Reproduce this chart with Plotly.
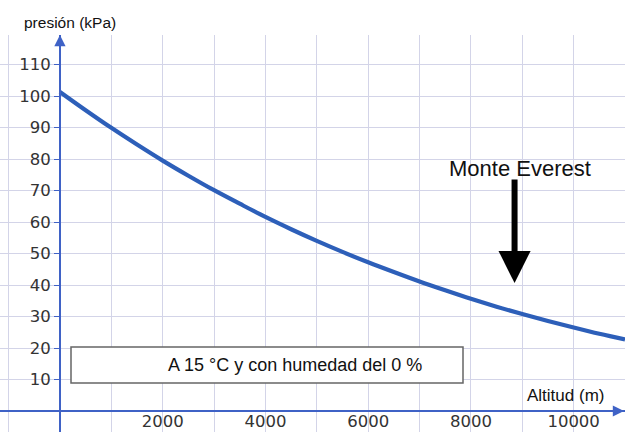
import plotly.graph_objects as go

# ---- data ----
altitud_m = [0, 500, 1000, 1500, 2000, 2500, 3000, 3500, 4000, 4500, 5000, 5500,
             6000, 6500, 7000, 7500, 8000, 8500, 9000, 9500, 10000, 10500, 11000]
presion_kpa = [101.3, 95.5, 89.9, 84.6, 79.5, 74.7, 70.1, 65.8, 61.6, 57.7, 54.0, 50.5,
               47.2, 44.1, 41.1, 38.3, 35.6, 33.1, 30.8, 28.6, 26.5, 24.5, 22.7]
x_ticks = [2000, 4000, 6000, 8000, 10000]
x_grid = list(range(-1000, 11001, 1000))
y_ticks = [10, 20, 30, 40, 50, 60, 70, 80, 90, 100, 110]
everest_alt = 8850
box_text = "A 15 °C y con humedad del 0 %"

# ---- layout geometry ----
W, H = 625, 432
TOP = 35
xmin, xmax = -1167, 11000
ymin, ymax = -6.67, 119.37

def X(px):
    return xmin + px / W * (xmax - xmin)

def Y(py):
    return ymax - (py - TOP) / (H - TOP) * (ymax - ymin)

def PX(px):
    return px / W

def PY(py):
    return 1 - (py - TOP) / (H - TOP)

axis_col = "#3f62c6"
grid_col = "#d3d4e8"
curve_col = "#2d5fb9"
tick_font = dict(family="DejaVu Sans", size=16.5, color="#333333")
txt_font = "Liberation Sans, Arial, sans-serif"

fig = go.Figure()
fig.add_trace(go.Scatter(
    x=altitud_m, y=presion_kpa, mode="lines",
    line=dict(color=curve_col, width=4.2, shape="spline"),
    hoverinfo="skip", showlegend=False))

xpos = (0 - ymin) / (ymax - ymin)
ypos = (0 - xmin) / (xmax - xmin)

fig.update_layout(
    width=W, height=H,
    margin=dict(l=0, r=0, t=TOP, b=0, pad=0),
    paper_bgcolor="white", plot_bgcolor="white",
    showlegend=False,
    xaxis=dict(range=[xmin, xmax], anchor="free", position=xpos,
               tickvals=x_grid,
               ticktext=[str(v) if v in x_ticks else "" for v in x_grid],
               showgrid=True, gridcolor=grid_col, gridwidth=1.2,
               zeroline=False, showline=True, linecolor=axis_col, linewidth=1.6,
               ticks="", tickfont=tick_font, ticklabelstandoff=-5, automargin=False),
    yaxis=dict(range=[ymin, ymax], anchor="free", position=ypos,
               tickvals=y_ticks,
               showgrid=True, gridcolor=grid_col, gridwidth=1.2,
               zeroline=False, showline=True, linecolor=axis_col, linewidth=1.6,
               ticks="outside", ticklen=5, tickcolor=axis_col, tickwidth=1.2,
               tickfont=tick_font, automargin=False),
)

# axis arrowheads
fig.add_annotation(x=0, y=ymax, xref="x", yref="y", ax=0, ay=12, text="",
                   showarrow=True, arrowhead=2, arrowsize=1.4, arrowwidth=1.6,
                   arrowcolor=axis_col)
fig.add_annotation(x=X(624), y=0, xref="x", yref="y", ax=-12, ay=0, text="",
                   showarrow=True, arrowhead=2, arrowsize=1.4, arrowwidth=1.6,
                   arrowcolor=axis_col)

# axis titles
fig.add_annotation(x=PX(22), y=PY(23), xref="paper", yref="paper", text="presión (kPa)",
                   showarrow=False, xanchor="left", yanchor="middle",
                   font=dict(family=txt_font, size=15.5, color="#111111"))
fig.add_annotation(x=PX(565), y=PY(395), xref="paper", yref="paper", text="Altitud (m)",
                   showarrow=False, xanchor="center", yanchor="middle",
                   font=dict(family=txt_font, size=17, color="#111111"))

# condition box
fig.add_shape(type="rect", xref="x", yref="y",
              x0=X(71), x1=X(463), y0=Y(383), y1=Y(347),
              line=dict(color="#666666", width=1.5), fillcolor="white", layer="above")
fig.add_annotation(x=X(295), y=Y(365), xref="x", yref="y", text=box_text,
                   showarrow=False, xanchor="center", yanchor="middle",
                   font=dict(family=txt_font, size=18, color="#111111"))

# Monte Everest
fig.add_annotation(x=X(520), y=Y(168), xref="x", yref="y", text="Monte Everest",
                   showarrow=False, xanchor="center", yanchor="middle",
                   font=dict(family=txt_font, size=22, color="#111111"))
fig.add_annotation(x=everest_alt, y=Y(283), xref="x", yref="y",
                   ax=everest_alt, ay=Y(178), axref="x", ayref="y", text="",
                   showarrow=True, arrowhead=2, arrowsize=1.07, arrowwidth=6,
                   arrowcolor="#000000")

fig.write_html("out.html", config={"displayModeBar": False},
               post_script="document.body.style.margin='0';document.body.style.padding='0';")
